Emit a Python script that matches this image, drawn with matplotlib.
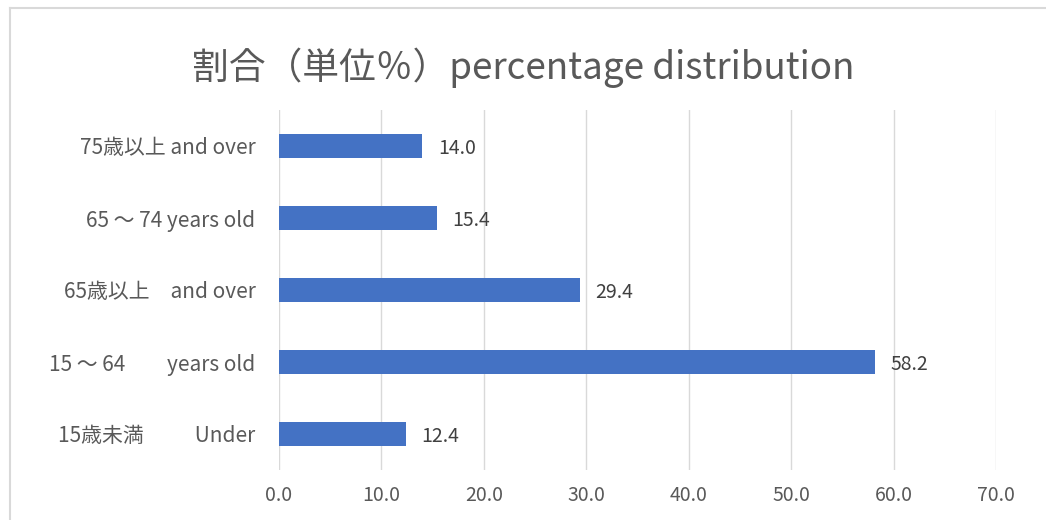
import matplotlib
matplotlib.use("Agg")
import matplotlib.pyplot as plt
from matplotlib.lines import Line2D

plt.rcParams['font.family'] = ['Noto Sans CJK JP', 'DejaVu Sans']

categories = ["15歳未満　　  Under", "15 ～ 64　　years old", "65歳以上　and over",
              "65 ～ 74 years old", "75歳以上 and over"]
values = [12.4, 58.2, 29.4, 15.4, 14.0]
xticks = [0, 10, 20, 30, 40, 50, 60, 70]
title = "割合（単位％）percentage distribution"

fig = plt.figure(figsize=(10.46, 5.2), dpi=100)
ax = fig.add_axes([279/1046, 1-470/520, (996-279)/1046, 360/520])

ypos = list(range(len(categories)))
ax.barh(ypos, values, height=0.33, color="#4472C4", zorder=3)
for y, v in zip(ypos, values):
    ax.text(v + 1.5, y - 0.04, f"{v:.1f}", va="center", ha="left", fontsize=14, color="#404040")

ax.set_xlim(0, 70)
ax.set_ylim(-0.5, len(categories) - 0.5)
ax.set_xticks(xticks)
ax.set_xticklabels([f"{t:.1f}" for t in xticks], fontsize=14, color="#595959")
ax.set_yticks(ypos)
ax.set_yticklabels(categories, fontsize=15, color="#595959")
ax.tick_params(axis="y", length=0, pad=17)
ax.tick_params(axis="x", length=0, pad=11)
ax.grid(axis="x", color="#D9D9D9", linewidth=1, zorder=0)
for s in ax.spines.values():
    s.set_visible(False)

fig.text(0.5, 1-68/520, title, ha="center", va="center", fontsize=26.5, color="#595959")

# chart frame
fig.add_artist(Line2D([10/1046, 10/1046], [0, 1-8/520], color="#D9D9D9", lw=1.5))
fig.add_artist(Line2D([10/1046, 1], [1-8/520, 1-8/520], color="#D9D9D9", lw=1.5))

fig.savefig("out.png", dpi=100, facecolor="white")
